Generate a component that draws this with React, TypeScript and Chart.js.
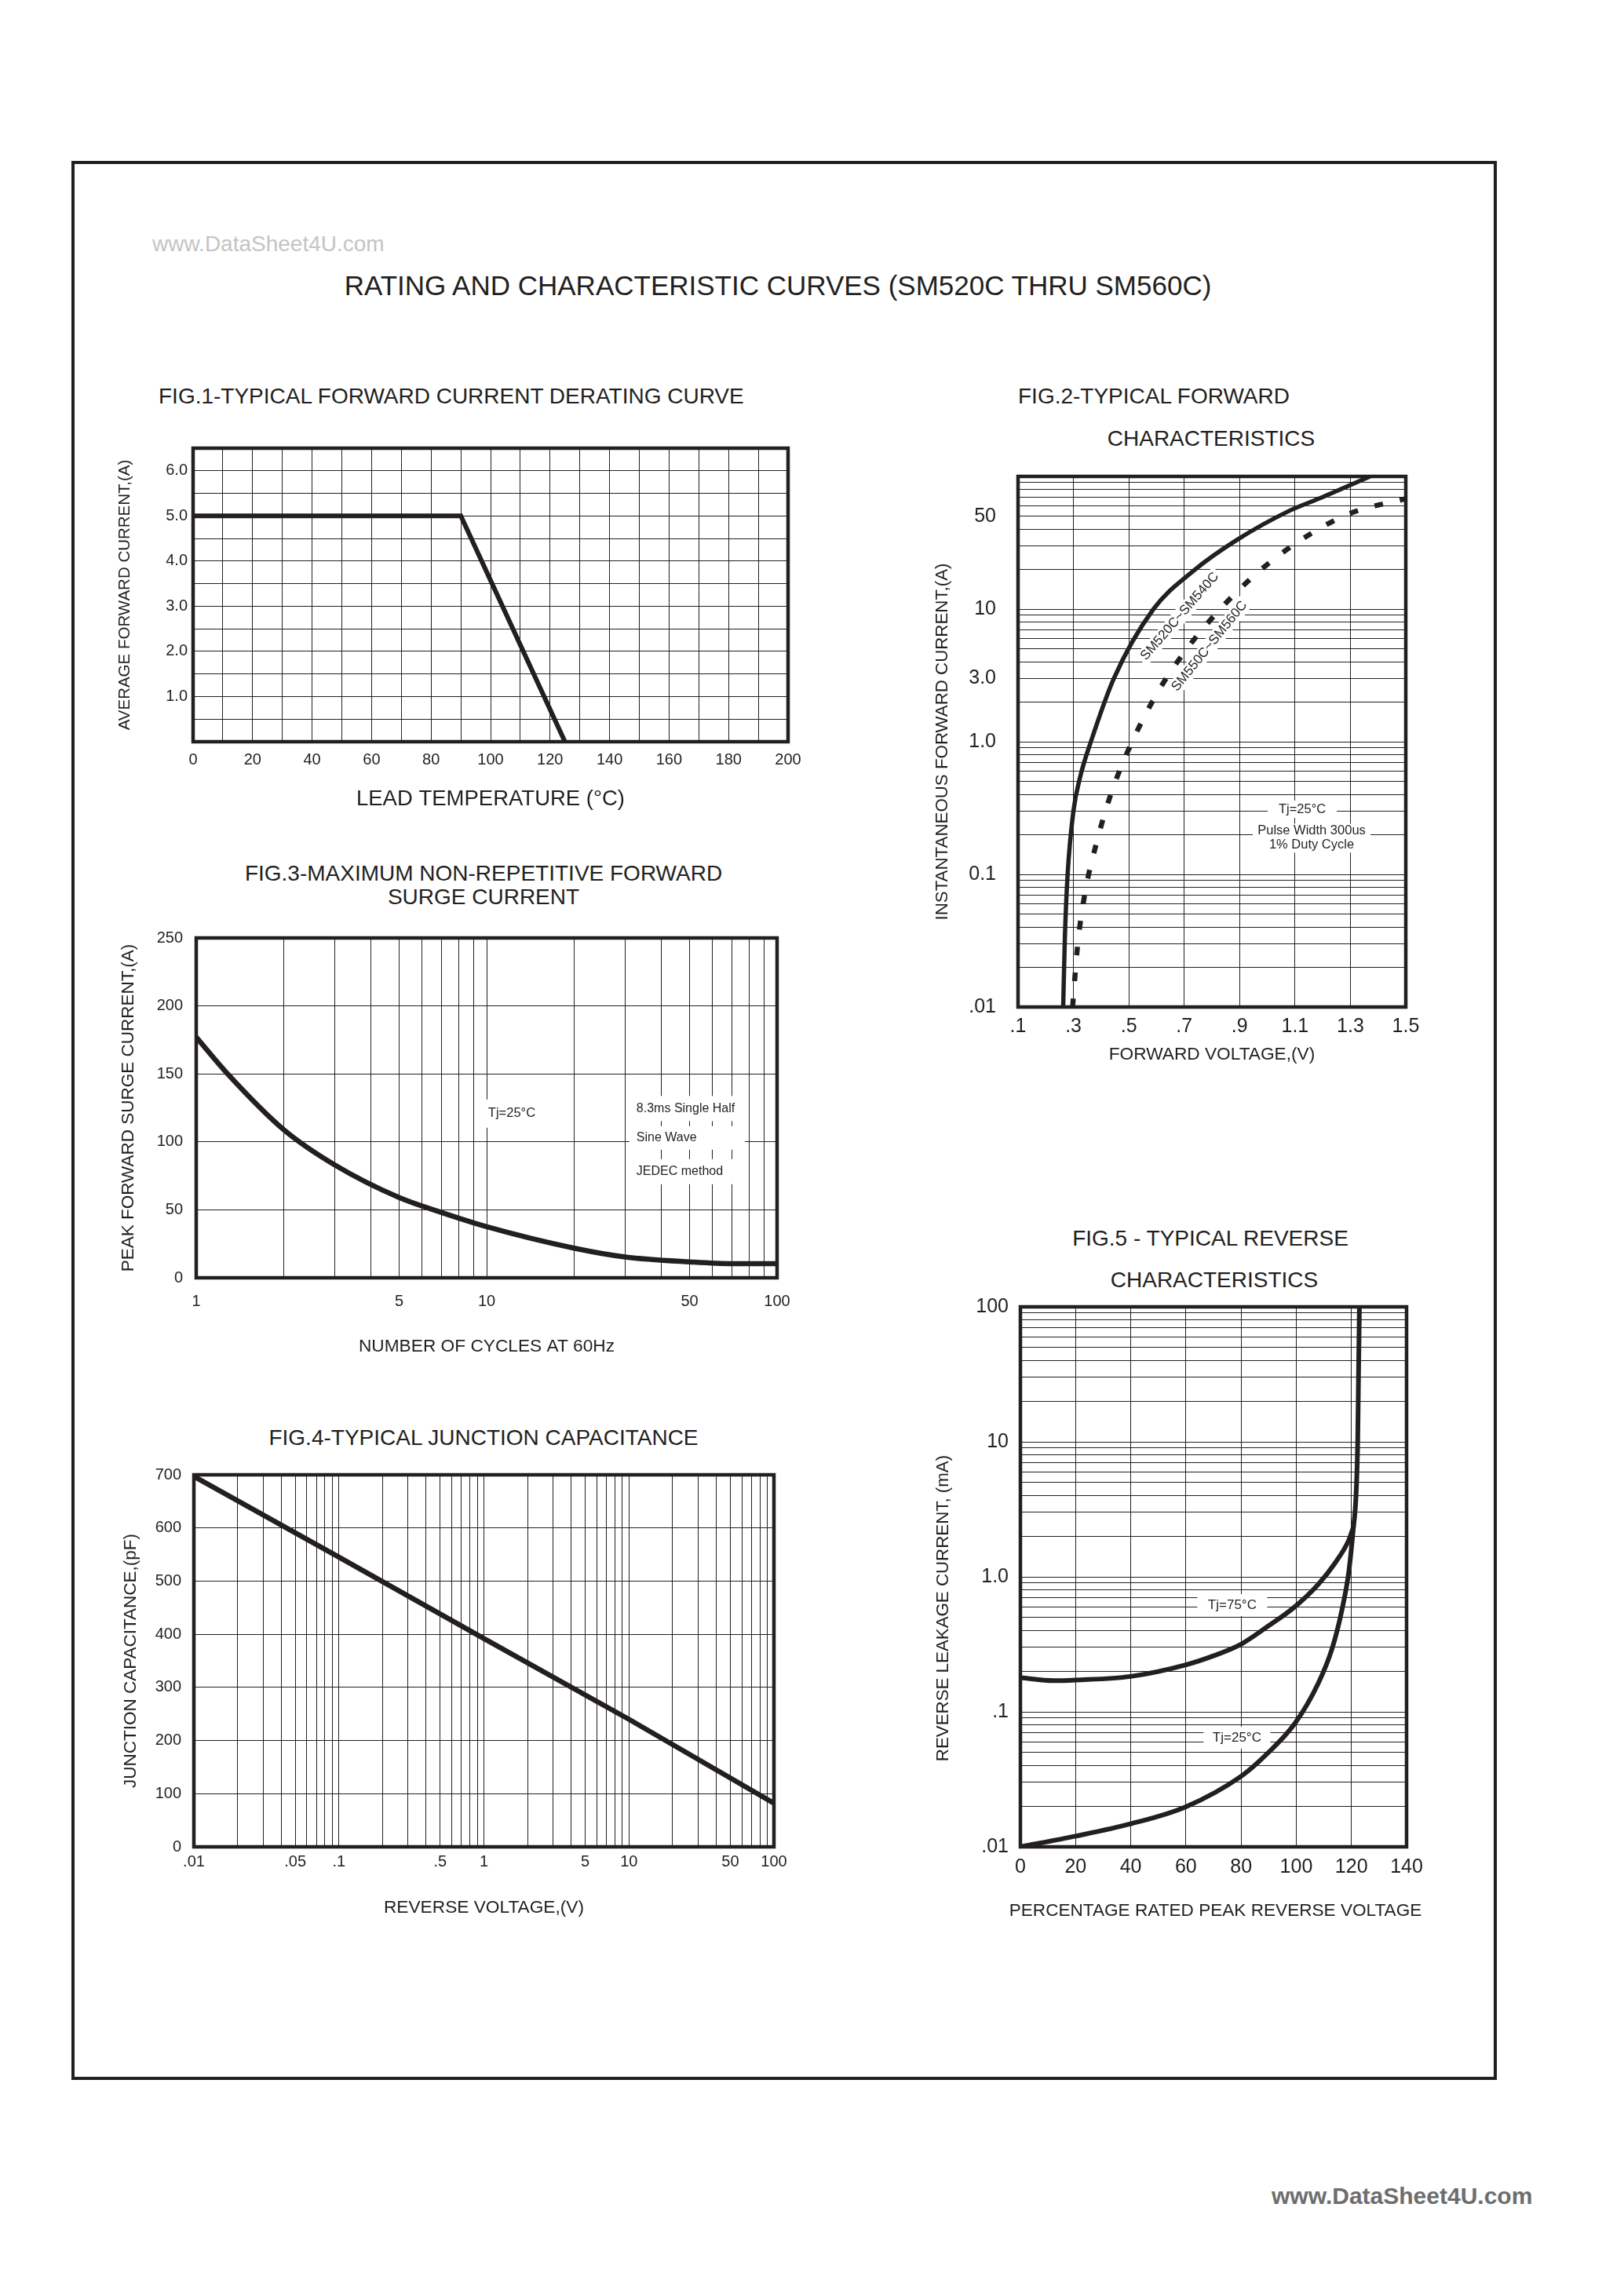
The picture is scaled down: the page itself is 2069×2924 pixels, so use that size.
import React, { useEffect, useRef } from 'react';
import { Chart, registerables } from 'chart.js';

Chart.register(...registerables);

const FONT = '"Liberation Sans", Arial, Helvetica, sans-serif';
const INK = '#231f20';

// ---------- FIG.1 data ----------
const fig1Temperature = [0, 90, 125];
const fig1Current = [5.0, 5.0, 0];
const fig1XTickValues = [0, 20, 40, 60, 80, 100, 120, 140, 160, 180, 200];
const fig1XTickLabels = ['0', '20', '40', '60', '80', '100', '120', '140', '160', '180', '200'];
const fig1YTickValues = [1, 2, 3, 4, 5, 6];
const fig1YTickLabels = ['1.0', '2.0', '3.0', '4.0', '5.0', '6.0'];

// ---------- FIG.2 data ----------
const fig2SolidVoltage = [0.263, 0.269, 0.279, 0.3, 0.325, 0.363, 0.446, 0.589, 0.733, 0.888, 1.079, 1.186, 1.371];
const fig2SolidCurrent = [0.01, 0.033, 0.1, 0.3, 0.55, 1.0, 3.0, 10, 19.4, 33, 55, 68, 100];
const fig2DashVoltage = [0.297, 0.315, 0.341, 0.384, 0.44, 0.512, 0.601, 0.706, 0.832, 0.971, 1.126, 1.297, 1.5];
const fig2DashCurrent = [0.01, 0.029, 0.071, 0.175, 0.43, 1.0, 2.3, 4.9, 10.1, 19.3, 33.7, 52.4, 68];
const fig2XTickValues = [0.1, 0.3, 0.5, 0.7, 0.9, 1.1, 1.3, 1.5];
const fig2XTickLabels = ['.1', '.3', '.5', '.7', '.9', '1.1', '1.3', '1.5'];
const fig2YTickValues = [0.01, 0.1, 1, 3, 10, 50];
const fig2YTickLabels = ['.01', '0.1', '1.0', '3.0', '10', '50'];

// ---------- FIG.3 data ----------
const fig3Cycles = [1, 1.27, 2, 3, 5, 7, 10, 20, 30, 50, 70, 100];
const fig3Surge = [177, 151, 109, 83, 59, 48, 37.6, 21.8, 15.3, 11.7, 10.4, 10.4];
const fig3XTickValues = [1, 5, 10, 50, 100];
const fig3XTickLabels = ['1', '5', '10', '50', '100'];
const fig3YTickValues = [0, 50, 100, 150, 200, 250];
const fig3YTickLabels = ['0', '50', '100', '150', '200', '250'];

// ---------- FIG.4 data ----------
const fig4Voltage = [0.01, 0.1, 1, 10, 100];
const fig4Capacitance = [697, 545, 392, 240, 82];
const fig4XTickValues = [0.01, 0.05, 0.1, 0.5, 1, 5, 10, 50, 100];
const fig4XTickLabels = ['.01', '.05', '.1', '.5', '1', '5', '10', '50', '100'];
const fig4YTickValues = [0, 100, 200, 300, 400, 500, 600, 700];
const fig4YTickLabels = ['0', '100', '200', '300', '400', '500', '600', '700'];

// ---------- FIG.5 data ----------
const fig5Percent75 = [0, 12, 20, 40, 60, 70, 80, 89, 99.5, 108, 114, 119, 120.8];
const fig5Leakage75 = [0.179, 0.17, 0.172, 0.183, 0.223, 0.26, 0.317, 0.42, 0.6, 0.88, 1.26, 1.86, 2.36];
const fig5Percent25 = [0, 20, 40, 60, 80, 89, 99.5, 108, 113, 116.6, 119, 120.6, 121.7, 122.3, 122.6, 122.8, 122.9];
const fig5Leakage25 = [0.01, 0.012, 0.0148, 0.0198, 0.0333, 0.048, 0.082, 0.163, 0.294, 0.573, 1.07, 2.18, 4.08, 10.5, 33.9, 69, 100];
const fig5XTickValues = [0, 20, 40, 60, 80, 100, 120, 140];
const fig5XTickLabels = ['0', '20', '40', '60', '80', '100', '120', '140'];
const fig5YTickValues = [0.01, 0.1, 1, 10, 100];
const fig5YTickLabels = ['.01', '.1', '1.0', '10', '100'];

// ---------- helpers ----------
function linearGrid(min: number, max: number, step: number) {
  const out: number[] = [];
  const n = Math.round((max - min) / step);
  for (let i = 0; i <= n; i++) out.push(Number((min + i * step).toFixed(6)));
  return out;
}
function logGrid(min: number, max: number) {
  const out: number[] = [];
  const e0 = Math.round(Math.log10(min));
  const e1 = Math.round(Math.log10(max));
  for (let e = e0; e < e1; e++) {
    for (let m = 1; m < 10; m++) out.push(Number((m * Math.pow(10, e)).toPrecision(6)));
  }
  out.push(max);
  return out;
}
function labelFor(values: number[], labels: string[]) {
  return (v: number) => {
    const i = values.findIndex((t) => Math.abs(t - v) <= 1e-6 * Math.max(1e-12, Math.abs(t)) || (t === 0 && Math.abs(v) < 1e-12));
    return i >= 0 ? labels[i] : '';
  };
}
function pts(xs: number[], ys: number[]) {
  return xs.map((x, i) => ({ x, y: ys[i] }));
}

type AxisSpec = {
  type: 'linear' | 'logarithmic';
  min: number;
  max: number;
  grid: number[];
  tickValues: number[];
  tickLabels: string[];
  fontSize: number;
  padding: number;
  size: number;
  title?: string;
  titleSize?: number;
};

function axis(spec: AxisSpec, isX: boolean) {
  const label = labelFor(spec.tickValues, spec.tickLabels);
  return {
    type: spec.type,
    min: spec.min,
    max: spec.max,
    position: isX ? 'bottom' : 'left',
    afterBuildTicks: (s: any) => {
      s.ticks = spec.grid.map((v) => ({ value: v }));
    },
    afterFit: (s: any) => {
      if (isX) s.height = spec.size;
      else s.width = spec.size;
    },
    ticks: {
      autoSkip: false,
      maxRotation: 0,
      minRotation: 0,
      padding: spec.padding,
      color: INK,
      font: { family: FONT, size: spec.fontSize },
      callback: (v: any) => label(Number(v)),
    },
    grid: { color: INK, lineWidth: 1, drawTicks: false },
    border: { display: false },
    title: spec.title
      ? { display: true, text: spec.title, color: INK, font: { family: FONT, size: spec.titleSize }, padding: 0 }
      : { display: false },
  };
}

type Note = {
  text: string;
  x?: number;
  y?: number;
  px?: number;
  py?: number;
  size: number;
  rot?: number;
  align?: 'left' | 'center';
  box?: { w?: number; h?: number; dx?: number };
};

function notesPlugin(items: Note[]) {
  return {
    id: 'notes',
    beforeDatasetsDraw(chart: any) {
      const { ctx, chartArea, scales } = chart;
      for (const it of items) {
        const px = it.px !== undefined ? chartArea.left + it.px : scales.x.getPixelForValue(it.x);
        const py = it.py !== undefined ? chartArea.top + it.py : scales.y.getPixelForValue(it.y);
        ctx.save();
        ctx.translate(px, py);
        ctx.rotate(((it.rot || 0) * Math.PI) / 180);
        ctx.font = `${it.size}px ${FONT}`;
        const w = ctx.measureText(it.text).width;
        const align = it.align || 'center';
        if (it.box) {
          const bw = it.box.w !== undefined ? it.box.w : w + 8;
          const bh = it.box.h !== undefined ? it.box.h : it.size + 4;
          const bx = align === 'center' ? -bw / 2 : -(it.box.dx !== undefined ? it.box.dx : 4);
          ctx.fillStyle = '#ffffff';
          ctx.fillRect(bx, -bh / 2, bw, bh);
        }
        ctx.fillStyle = INK;
        ctx.textAlign = align;
        ctx.textBaseline = 'middle';
        ctx.fillText(it.text, 0, 0);
        ctx.restore();
      }
    },
  };
}

const framePlugin = {
  id: 'frame',
  beforeDatasetsDraw(chart: any) {
    const { ctx, chartArea } = chart;
    ctx.save();
    ctx.lineWidth = 4.5;
    ctx.strokeStyle = INK;
    ctx.strokeRect(chartArea.left, chartArea.top, chartArea.right - chartArea.left, chartArea.bottom - chartArea.top);
    ctx.restore();
  },
};

type ChartSpec = {
  left: number;
  top: number;
  width: number;
  height: number;
  padTop: number;
  padRight: number;
  x: AxisSpec;
  y: AxisSpec;
  datasets: any[];
  notes: Note[];
};

function line(data: any[], width: number, extra: any = {}) {
  return {
    data,
    showLine: true,
    borderColor: INK,
    backgroundColor: INK,
    borderWidth: width,
    pointRadius: 0,
    pointHoverRadius: 0,
    fill: false,
    tension: 0,
    ...extra,
  };
}

function ChartBox({ spec }: { spec: ChartSpec }) {
  const ref = useRef<HTMLCanvasElement>(null);
  useEffect(() => {
    const chart = new Chart(ref.current as HTMLCanvasElement, {
      type: 'scatter',
      data: { datasets: spec.datasets },
      options: {
        animation: false,
        responsive: false,
        maintainAspectRatio: false,
        devicePixelRatio: 1,
        events: [],
        layout: { padding: { top: spec.padTop, right: spec.padRight, left: 0, bottom: 0 } },
        plugins: { legend: { display: false }, tooltip: { enabled: false }, title: { display: false } },
        scales: { x: axis(spec.x, true), y: axis(spec.y, false) } as any,
      },
      plugins: [notesPlugin(spec.notes), framePlugin],
    } as any);
    return () => chart.destroy();
  }, []);
  return (
    <canvas
      ref={ref}
      width={spec.width}
      height={spec.height}
      style={{ position: 'absolute', left: spec.left, top: spec.top, width: spec.width, height: spec.height }}
    />
  );
}

const fig1Spec: ChartSpec = {
  left: 147, top: 541, width: 897, height: 494, padTop: 30, padRight: 40,
  x: { type: 'linear', min: 0, max: 200, grid: linearGrid(0, 200, 10), tickValues: fig1XTickValues, tickLabels: fig1XTickLabels, fontSize: 20, padding: 11, size: 90, title: 'LEAD TEMPERATURE (°C)', titleSize: 27.5 },
  y: { type: 'linear', min: 0, max: 6.5, grid: linearGrid(0, 6.5, 0.5), tickValues: fig1YTickValues, tickLabels: fig1YTickLabels, fontSize: 20, padding: 7, size: 99, title: 'AVERAGE FORWARD CURRENT,(A)', titleSize: 20.5 },
  datasets: [line(pts(fig1Temperature, fig1Current), 6, { borderJoinStyle: 'miter' })],
  notes: [],
};

const fig2Spec: ChartSpec = {
  left: 1187, top: 564, width: 644, height: 793, padTop: 30, padRight: 40,
  x: { type: 'linear', min: 0.1, max: 1.5, grid: linearGrid(0.1, 1.5, 0.2), tickValues: fig2XTickValues, tickLabels: fig2XTickLabels, fontSize: 25, padding: 10, size: 74, title: 'FORWARD VOLTAGE,(V)', titleSize: 22.7 },
  y: { type: 'logarithmic', min: 0.01, max: 100, grid: logGrid(0.01, 100), tickValues: fig2YTickValues, tickLabels: fig2YTickLabels, fontSize: 25, padding: 28, size: 110, title: 'INSTANTANEOUS FORWARD CURRENT,(A)', titleSize: 22.3 },
  datasets: [
    line(pts(fig2SolidVoltage, fig2SolidCurrent), 5.5, { cubicInterpolationMode: 'monotone' }),
    line(pts(fig2DashVoltage, fig2DashCurrent), 6.5, { cubicInterpolationMode: 'monotone', borderDash: [11, 22], borderCapStyle: 'butt' }),
  ],
  notes: [
    { text: 'SM520C~SM540C', x: 0.684, y: 8.8, size: 17, rot: -49, box: { h: 20 } },
    { text: 'SM550C~SM560C', x: 0.791, y: 5.25, size: 17, rot: -51, box: { h: 20 } },
    { text: 'Tj=25°C', x: 1.126, y: 0.31, size: 16.5, box: { w: 88, h: 22 } },
    { text: 'Pulse Width 300us', x: 1.16, y: 0.213, size: 16.5, box: { w: 150, h: 18 } },
    { text: '1% Duty Cycle', x: 1.16, y: 0.167, size: 16.5, box: { w: 150, h: 20 } },
  ],
};

const fig3Spec: ChartSpec = {
  left: 150, top: 1165, width: 880, height: 564, padTop: 30, padRight: 40,
  x: { type: 'logarithmic', min: 1, max: 100, grid: logGrid(1, 100), tickValues: fig3XTickValues, tickLabels: fig3XTickLabels, fontSize: 20, padding: 18.5, size: 101, title: 'NUMBER OF CYCLES AT 60Hz', titleSize: 22.7 },
  y: { type: 'linear', min: 0, max: 250, grid: linearGrid(0, 250, 50), tickValues: fig3YTickValues, tickLabels: fig3YTickLabels, fontSize: 20, padding: 17, size: 100, title: 'PEAK FORWARD SURGE CURRENT,(A)', titleSize: 22.5 },
  datasets: [line(pts(fig3Cycles, fig3Surge), 6.5, { cubicInterpolationMode: 'monotone' })],
  notes: [
    { text: 'Tj=25°C', x: 12.2, y: 120.8, size: 16.5, box: { w: 75, h: 36 } },
    { text: '8.3ms Single Half', x: 32.8, y: 124.5, size: 16, align: 'left', box: { w: 147, h: 32, dx: 9 } },
    { text: 'Sine Wave', x: 32.8, y: 102.9, size: 16, align: 'left', box: { w: 147, h: 30, dx: 9 } },
    { text: 'JEDEC method', x: 32.8, y: 78.1, size: 16, align: 'left', box: { w: 147, h: 32, dx: 9 } },
  ],
};

const fig4Spec: ChartSpec = {
  left: 153, top: 1849, width: 873, height: 595, padTop: 30, padRight: 40,
  x: { type: 'logarithmic', min: 0.01, max: 100, grid: logGrid(0.01, 100), tickValues: fig4XTickValues, tickLabels: fig4XTickLabels, fontSize: 20, padding: 7, size: 91, title: 'REVERSE VOLTAGE,(V)', titleSize: 22.7 },
  y: { type: 'linear', min: 0, max: 700, grid: linearGrid(0, 700, 100), tickValues: fig4YTickValues, tickLabels: fig4YTickLabels, fontSize: 20, padding: 16, size: 94, title: 'JUNCTION CAPACITANCE,(pF)', titleSize: 22.5 },
  datasets: [line(pts(fig4Voltage, fig4Capacitance), 6.5)],
  notes: [],
};

const fig5Spec: ChartSpec = {
  left: 1180, top: 1635, width: 652, height: 813, padTop: 30, padRight: 40,
  x: { type: 'linear', min: 0, max: 140, grid: linearGrid(0, 140, 20), tickValues: fig5XTickValues, tickLabels: fig5XTickLabels, fontSize: 25, padding: 11, size: 95 },
  y: { type: 'logarithmic', min: 0.01, max: 100, grid: logGrid(0.01, 100), tickValues: fig5YTickValues, tickLabels: fig5YTickLabels, fontSize: 25, padding: 15, size: 120 },
  datasets: [
    line(pts(fig5Percent75, fig5Leakage75), 6, { cubicInterpolationMode: 'monotone' }),
    line(pts(fig5Percent25, fig5Leakage25), 6, { cubicInterpolationMode: 'monotone' }),
  ],
  notes: [
    { text: 'Tj=75°C', x: 76.8, y: 0.618, size: 17, box: { w: 89, h: 28 } },
    { text: 'Tj=25°C', x: 78.5, y: 0.0644, size: 17, box: { w: 85, h: 28 } },
    { text: 'REVERSE LEAKAGE CURRENT, (mA)', px: -98, py: 384, size: 22.3, rot: -90 },
    { text: 'PERCENTAGE RATED PEAK REVERSE VOLTAGE', px: 248.5, py: 770, size: 22.6 },
  ],
};

function Txt(props: { x: number; y: number; size: number; text: string; align?: 'left' | 'center'; color?: string; weight?: number | string }) {
  const { x, y, size, text, align = 'center', color = INK, weight = 'normal' } = props;
  return (
    <div
      style={{
        position: 'absolute',
        left: x,
        top: y,
        transform: align === 'center' ? 'translate(-50%, -50%)' : 'translate(0, -50%)',
        fontFamily: FONT,
        fontSize: size,
        lineHeight: 1,
        whiteSpace: 'nowrap',
        color,
        fontWeight: weight as any,
      }}
    >
      {text}
    </div>
  );
}

export default function App() {
  return (
    <div style={{ position: 'absolute', left: 0, top: 0, width: 2069, height: 2924, background: '#ffffff', overflow: 'hidden' }}>
      <div
        style={{
          position: 'absolute',
          left: 91,
          top: 205,
          width: 1907 - 91,
          height: 2650 - 205,
          border: `4px solid ${INK}`,
          boxSizing: 'border-box',
        }}
      />
      <Txt x={194} y={311} size={28} text="www.DataSheet4U.com" align="left" color="#c4c4c4" />
      <Txt x={991} y={363} size={35} text="RATING AND CHARACTERISTIC CURVES (SM520C THRU SM560C)" />
      <Txt x={202} y={505} size={28} text="FIG.1-TYPICAL FORWARD CURRENT DERATING CURVE" align="left" />
      <Txt x={1297} y={505} size={28} text="FIG.2-TYPICAL FORWARD" align="left" />
      <Txt x={1543} y={559} size={28} text="CHARACTERISTICS" />
      <Txt x={616} y={1113} size={28} text="FIG.3-MAXIMUM NON-REPETITIVE FORWARD" />
      <Txt x={616} y={1143} size={28} text="SURGE CURRENT" />
      <Txt x={616} y={1832} size={28} text="FIG.4-TYPICAL JUNCTION CAPACITANCE" />
      <Txt x={1542} y={1578} size={28} text="FIG.5 - TYPICAL REVERSE" />
      <Txt x={1547} y={1631} size={28} text="CHARACTERISTICS" />
      <Txt x={1620} y={2798} size={30} text="www.DataSheet4U.com" align="left" color="#6d6d6d" weight="bold" />
      <ChartBox spec={fig1Spec} />
      <ChartBox spec={fig2Spec} />
      <ChartBox spec={fig3Spec} />
      <ChartBox spec={fig4Spec} />
      <ChartBox spec={fig5Spec} />
    </div>
  );
}
